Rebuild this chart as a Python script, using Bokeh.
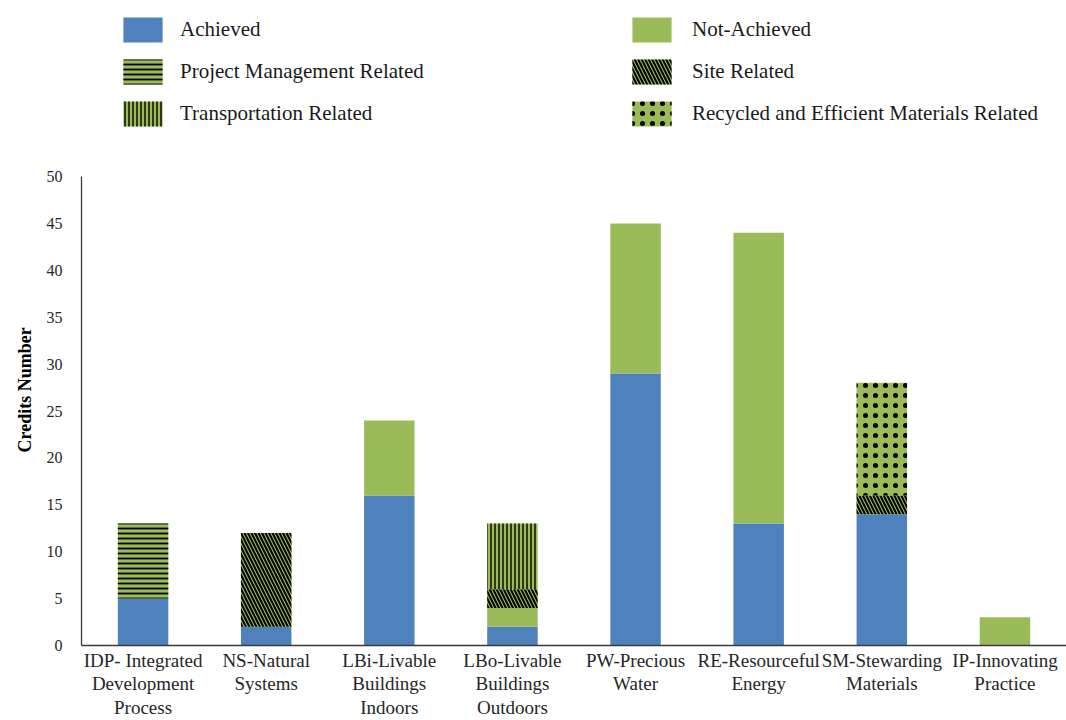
import numpy as np
from bokeh.plotting import figure
from bokeh.models import Legend, LegendItem, FixedTicker, Range1d, Title
from bokeh.embed import file_html
from bokeh.resources import INLINE

# Credit categories (axis labels split onto lines)
categories = [
    "IDP- Integrated\nDevelopment\nProcess",
    "NS-Natural\nSystems",
    "LBi-Livable\nBuildings\nIndoors",
    "LBo-Livable\nBuildings\nOutdoors",
    "PW-Precious\nWater",
    "RE-Resourceful\nEnergy",
    "SM-Stewarding\nMaterials",
    "IP-Innovating\nPractice",
]

# Credits per category, by segment (stacked bottom to top in this order)
achieved            = [5, 2, 16, 2, 29, 13, 14, 0]
not_achieved        = [0, 0, 8, 2, 16, 31, 0, 3]
site_related        = [0, 10, 0, 2, 0, 0, 2, 0]
project_mgmt        = [8, 0, 0, 0, 0, 0, 0, 0]
transportation      = [0, 0, 0, 7, 0, 0, 0, 0]
materials_related   = [0, 0, 0, 0, 0, 0, 12, 0]

y_ticks = [0, 5, 10, 15, 20, 25, 30, 35, 40, 45, 50]
y_max = 50

BLUE = "#4F81BD"
GREEN = "#9BBB59"
SERIF = "Liberation Serif"

# Plot area: the frame runs to the top of the canvas so the legend block
# above the axis stays inside it; the axis itself spans 0..y_max only.
FRAME_H = 645          # px, frame height
AXIS_TOP = 176         # px from canvas top where y_max sits
y_end = y_max * FRAME_H / (FRAME_H - AXIS_TOP)

x = np.arange(len(categories)) + 0.5

p = figure(width=1066, height=720, output_backend="svg", toolbar_location=None,
           x_range=Range1d(0, len(categories)), y_range=Range1d(0, y_end),
           min_border_left=81, min_border_right=0, min_border_top=0,
           min_border_bottom=720 - FRAME_H)
p.outline_line_color = None
p.xgrid.visible = False
p.ygrid.visible = False

segments = [
    ("Achieved", achieved, dict(fill_color=BLUE)),
    ("Not-Achieved", not_achieved, dict(fill_color=GREEN)),
    ("Site Related", site_related,
     dict(fill_color=GREEN, hatch_pattern="left_diagonal_line", hatch_color="black",
          hatch_scale=7, hatch_weight=2)),
    ("Project Management Related", project_mgmt,
     dict(fill_color=GREEN, hatch_pattern="horizontal_line", hatch_color="black",
          hatch_scale=5, hatch_weight=1.8)),
    ("Transportation Related", transportation,
     dict(fill_color=GREEN, hatch_pattern="vertical_line", hatch_color="black",
          hatch_scale=4, hatch_weight=1.4)),
    ("Recycled and Efficient Materials Related", materials_related,
     dict(fill_color=GREEN, hatch_pattern="dot", hatch_color="black",
          hatch_scale=10, hatch_weight=3)),
]

renderers = {}
base = np.zeros(len(categories))
for name, vals, style in segments:
    vals = np.array(vals, dtype=float)
    r = p.vbar(x=x, width=0.41, bottom=base, top=base + vals, line_color=None, **style)
    renderers[name] = r
    base = base + vals

# Axes
p.xaxis.ticker = FixedTicker(ticks=list(x))
p.xaxis.major_label_overrides = {float(xi): c for xi, c in zip(x, categories)}
p.xaxis.major_tick_line_color = None
p.xaxis.major_tick_out = 0
p.xaxis.major_tick_in = 0
p.xaxis.minor_tick_line_color = None
p.xaxis.major_label_text_font = SERIF
p.xaxis.major_label_text_font_size = "19px"
p.xaxis.major_label_text_line_height = 1.12
p.xaxis.major_label_text_color = "#262626"
p.xaxis.major_label_standoff = 4
p.xaxis.axis_label_standoff = 0
p.xaxis.axis_line_color = "#3a3a3a"
p.xaxis.axis_line_width = 1.3

p.yaxis.ticker = FixedTicker(ticks=y_ticks)
p.yaxis.bounds = (0, y_max)
p.yaxis.major_tick_line_color = None
p.yaxis.major_tick_out = 0
p.yaxis.major_tick_in = 0
p.yaxis.minor_tick_line_color = None
p.yaxis.major_label_text_font = SERIF
p.yaxis.major_label_text_font_size = "16px"
p.yaxis.major_label_text_color = "#262626"
p.yaxis.major_label_standoff = 19
p.yaxis.axis_label_standoff = 0
p.yaxis.axis_line_color = "#3a3a3a"
p.yaxis.axis_line_width = 1.3

# Vertical axis title, anchored above the frame bottom so it sits beside 0..50
p.add_layout(Title(text="Credits Number", align="left", offset=193,
                   text_font=SERIF, text_font_style="bold", text_font_size="18px",
                   text_color="#000000", standoff=18), "left")


def make_legend(names, loc, standoff):
    lg = Legend(items=[LegendItem(label=n, renderers=[renderers[n]]) for n in names],
                location=loc, orientation="vertical",
                glyph_width=49, glyph_height=31, label_height=31,
                spacing=11, padding=0, margin=0, label_standoff=standoff,
                border_line_color=None, background_fill_alpha=0,
                label_text_font=SERIF, label_text_font_size="21px",
                label_text_color="#1a1a1a")
    p.add_layout(lg, "center")


make_legend(["Achieved", "Project Management Related", "Transportation Related"], (37, 516), 13)
make_legend(["Not-Achieved", "Site Related", "Recycled and Efficient Materials Related"], (546, 516), 16)

open("out.html", "w").write(file_html(p, INLINE))
